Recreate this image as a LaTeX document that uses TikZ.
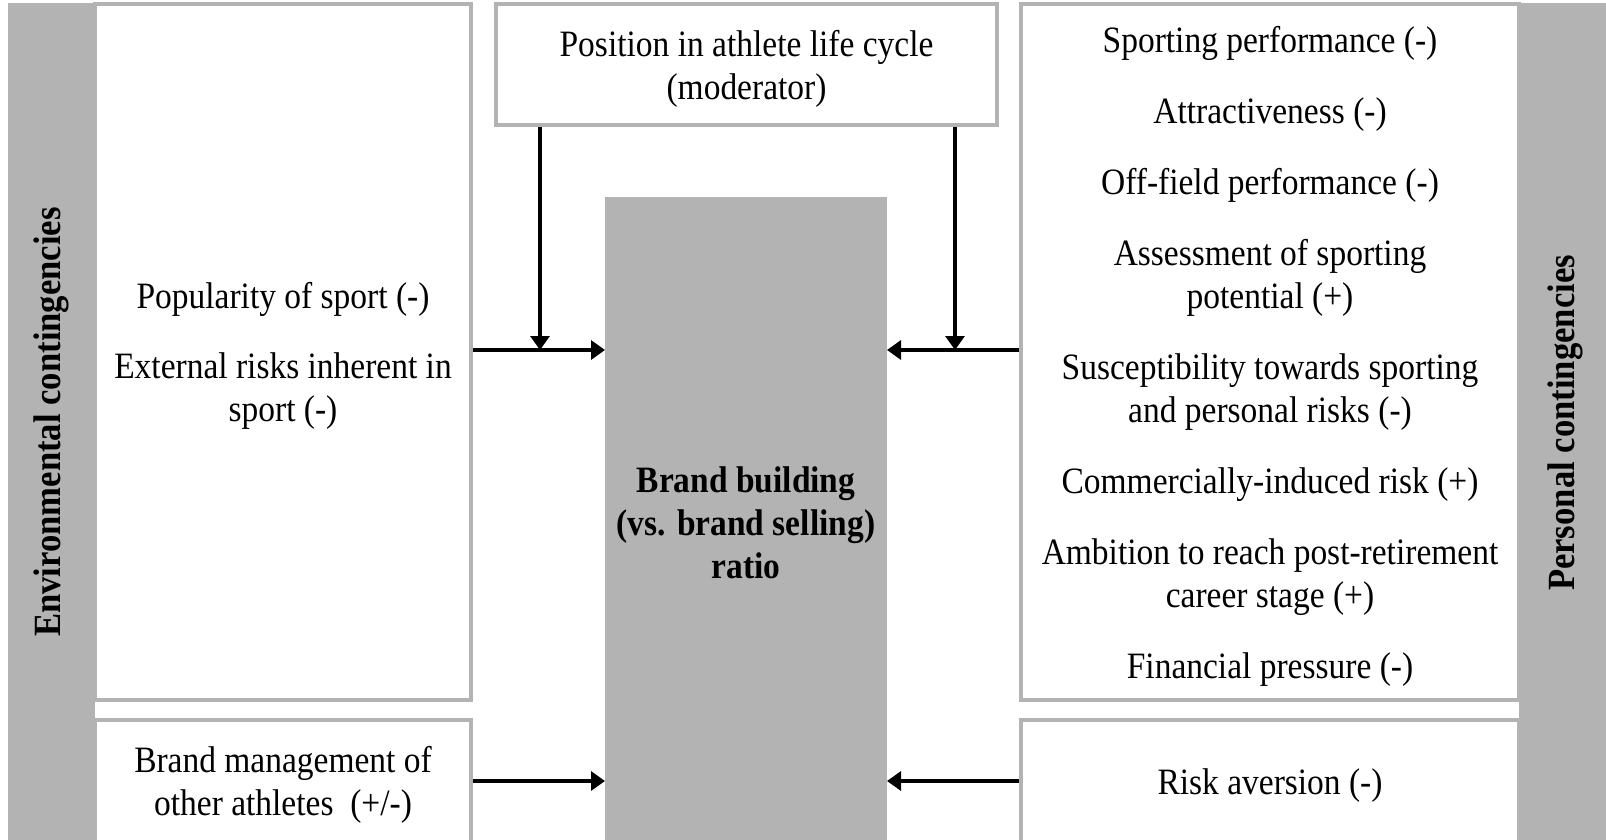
\documentclass[tikz,border=0pt]{standalone}
\usepackage{fontspec}
\setmainfont{Liberation Serif}[FakeStretch=0.9]
\usetikzlibrary{arrows.meta}
\definecolor{panelgray}{HTML}{B3B3B3}
\newcommand{\topstrut}{\rule{0pt}{34pt}}
\tikzset{
  txt/.style={font=\fontsize{37.2}{43}\selectfont, align=center},
  boldtxt/.style={font=\fontsize{37.2}{43}\selectfont\bfseries, align=center},
  sidetxt/.style={font=\fontsize{38.5}{44}\selectfont\bfseries, rotate=90},
  factor/.style={txt, draw=panelgray, line width=4pt, fill=white, inner sep=0pt},
  influence/.style={line width=3.2pt, -{Triangle[length=14pt, width=19pt]}},
}

\begin{document}
\begin{tikzpicture}[x=1pt, y=-1pt]
\clip (0,0) rectangle (1606,840);

% side panels
\fill[panelgray] (8,3) rectangle (95,860);
\fill[panelgray] (1519,3) rectangle (1620,860);
\node[sidetxt] (envlabel) at (51,422) {Environmental contingencies};
\node[sidetxt] (perslabel) at (1565,423) {Personal contingencies};

% factor boxes
\node[factor, minimum width=376pt, minimum height=696pt] (popbox) at (283,352)
  {\topstrut Popularity of sport (-)\\[27pt]External risks inherent in\\sport (-)};
\node[factor, minimum width=376pt, minimum height=122pt] (othbox) at (283,781)
  {\topstrut Brand management of\\other athletes\ \ (+/-)};
\node[factor, minimum width=501pt, minimum height=121pt] (posbox) at (746.5,64.5)
  {\topstrut Position in athlete life cycle\\(moderator)};
\node[factor, minimum width=498pt, minimum height=696pt] (persbox) at (1270,352)
  {\topstrut Sporting performance (-)\\[28pt]
   Attractiveness (-)\\[28pt]
   Off-field performance (-)\\[28pt]
   Assessment of sporting\\potential (+)\\[28pt]
   Susceptibility towards sporting\\and personal risks (-)\\[28pt]
   Commercially-induced risk (+)\\[28pt]
   Ambition to reach post-retirement\\career stage (+)\\[28pt]
   Financial pressure (-)};
\node[factor, minimum width=498pt, minimum height=122pt] (riskbox) at (1270,781)
  {\topstrut Risk aversion (-)};

% outcome
\node[boldtxt, fill=panelgray, inner sep=0pt, outer sep=0pt,
  minimum width=282pt, minimum height=644pt] (brandbox) at (746,519)
  {\topstrut Brand building\\(vs. brand selling)\\ratio};

% arrows
\coordinate (jl) at (540,350);
\coordinate (jr) at (955,350);
\draw[influence] (popbox.east |- jl) -- (brandbox.west |- jl);
\draw[influence] (posbox.south -| jl) -- (jl);
\draw[influence] (persbox.west |- jr) -- (brandbox.east |- jr);
\draw[influence] (posbox.south -| jr) -- (jr);
\draw[influence] (othbox.east) -- (brandbox.west |- othbox.east);
\draw[influence] (riskbox.west) -- (brandbox.east |- riskbox.west);
\end{tikzpicture}
\end{document}
